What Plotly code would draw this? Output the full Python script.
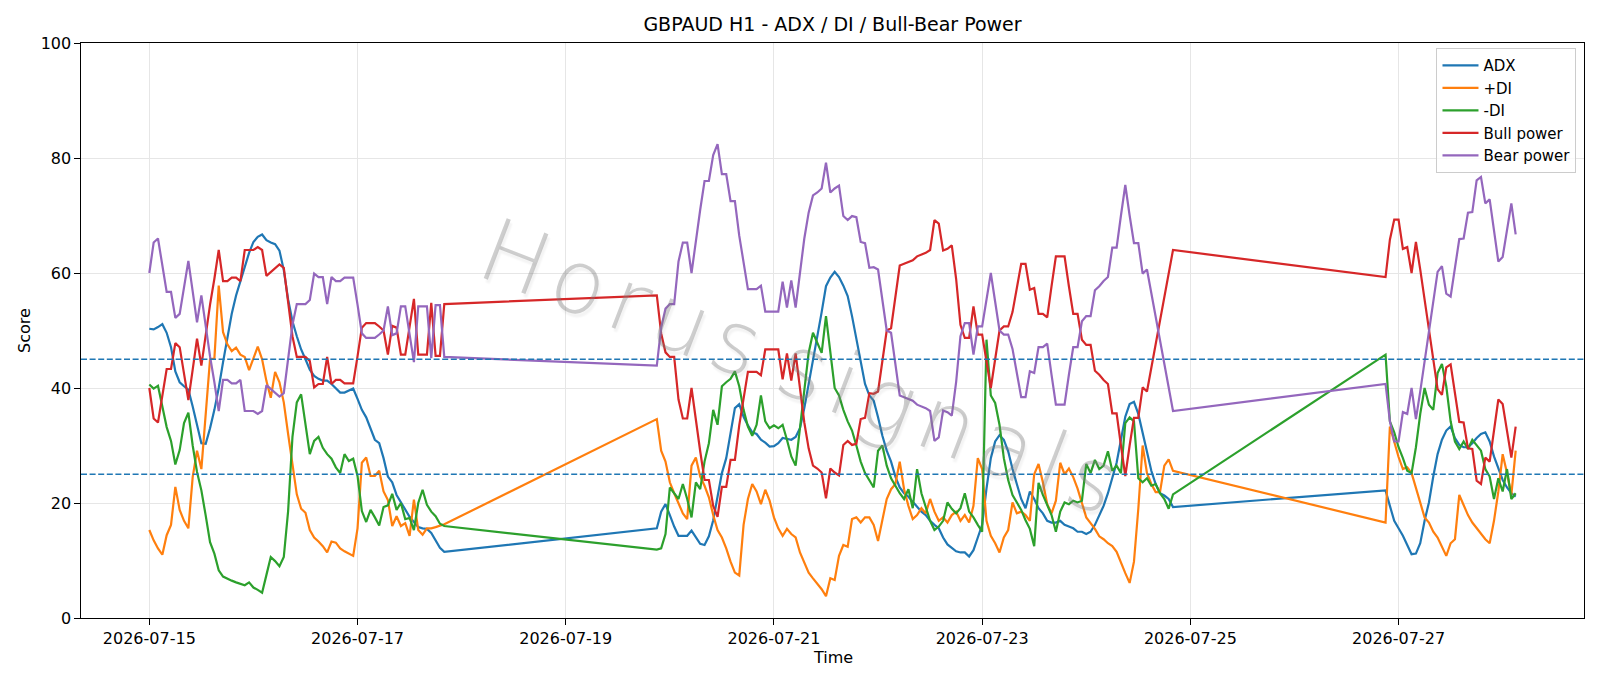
import pandas as pd
import plotly.graph_objects as go

# ---- time axis: three trading sessions of hourly bars ----
session_starts = ["2026-07-15 00:00", "2026-07-19 21:00", "2026-07-26 21:00"]
session_hours = [69, 120, 31]

# ---- series values ----
adx = [
    50.3, 50.2, 50.6, 51.1, 49.6, 47.1, 42.9, 41.0, 40.3, 39.7,
    36.8, 33.6, 30.4, 30.3, 33.0, 36.2, 40.0, 44.5, 49.0, 52.9,
    56.1, 58.7, 61.2, 63.5, 65.4, 66.3, 66.7, 65.7, 65.3, 65.0,
    63.9, 60.5, 55.4, 51.6, 49.0, 46.7, 45.0, 43.2, 42.1, 41.6,
    41.3, 41.3, 40.7, 40.0, 39.2, 39.2, 39.5, 39.9, 38.1, 36.2,
    34.9, 33.0, 31.0, 30.4, 27.8, 24.6, 23.6, 21.4, 20.1, 18.8,
    17.6, 16.7, 15.8, 15.6, 15.5, 14.8, 13.6, 12.2, 11.5,
    15.6, 18.5, 19.8, 17.9, 15.9, 14.3, 14.3, 14.3, 15.2, 14.0,
    12.9, 12.7, 14.2, 17.0, 21.4, 25.2, 27.8, 32.0, 36.5, 37.2,
    35.0, 33.5, 32.3, 32.0, 31.0, 30.5, 29.8, 29.9, 30.4, 31.3,
    31.1, 31.0, 31.5, 33.0, 36.5, 40.5, 44.5, 49.0, 53.2, 57.7,
    59.2, 60.2, 59.3, 57.8, 56.0, 52.5, 48.4, 44.5, 40.7, 38.7,
    37.8, 34.9, 31.7, 29.1, 27.2, 24.6, 22.7, 21.7, 21.1, 20.2,
    19.3, 18.5, 17.9, 16.9, 16.2, 15.6, 14.0, 12.8, 12.2, 11.6,
    11.4, 11.4, 10.7, 11.8, 14.0, 16.2, 22.5, 27.8, 30.7, 31.8,
    31.0, 29.0, 25.9, 23.3, 20.7, 19.1, 22.0, 20.7, 19.1, 18.2,
    16.9, 16.6, 16.6, 16.9, 16.2, 15.9, 15.6, 15.0, 15.0, 14.6,
    15.0, 16.2, 17.9, 19.5, 21.7, 24.3, 27.0, 31.0, 35.0, 37.2,
    37.6, 35.5, 32.3, 29.1, 25.6, 23.3, 21.7, 21.3, 20.7, 19.3,
    22.2, 19.5, 16.9, 15.6, 14.3, 12.7, 11.1, 11.2, 13.0, 16.9,
    20.1, 24.6, 28.5, 31.0, 32.6, 33.3, 31.3, 30.1, 29.7, 29.7,
    30.4, 31.3, 32.0, 32.3, 30.7, 28.1, 26.2, 24.0, 22.7, 21.7,
    21.1,
]

plus_di = [
    15.3, 13.5, 12.1, 11.0, 14.4, 16.2, 22.8, 18.8, 16.9, 15.6,
    24.5, 29.1, 25.9, 35.0, 45.0, 45.1, 57.8, 49.7, 47.6, 46.4,
    47.0, 45.8, 45.4, 43.1, 45.1, 47.2, 45.0, 41.2, 38.3, 42.8,
    41.0, 37.5, 32.0, 26.5, 21.5, 19.0, 18.3, 15.3, 14.0, 13.3,
    12.5, 11.4, 13.3, 13.1, 12.1, 11.6, 11.2, 10.8, 15.6, 27.0,
    27.9, 24.7, 24.7, 25.6, 22.0, 20.5, 16.0, 17.7, 16.0, 16.5,
    14.3, 20.6, 15.3, 14.5, 15.6, 15.6, 15.8, 16.0, 16.3,
    34.6, 29.1, 27.2, 23.6, 21.7, 19.8, 18.2, 17.2, 26.5, 27.9,
    24.6, 23.0, 21.0, 17.9, 15.3, 14.0, 12.1, 9.8, 7.9, 7.4,
    16.2, 20.7, 23.3, 22.0, 19.8, 22.3, 20.4, 17.5, 15.6, 14.3,
    15.5, 14.6, 14.0, 11.4, 9.8, 7.9, 6.9, 6.0, 5.0, 3.8,
    6.9, 6.6, 10.8, 12.7, 12.4, 17.2, 17.5, 16.6, 17.5, 17.5,
    16.2, 13.4, 16.9, 20.7, 22.4, 23.3, 27.2, 22.4, 19.5, 17.2,
    17.9, 19.1, 18.2, 20.7, 18.5, 16.9, 17.5, 16.6, 17.9, 18.5,
    16.9, 17.9, 16.6, 19.5, 27.8, 25.9, 16.9, 14.3, 13.0, 11.4,
    14.0, 15.3, 20.1, 18.2, 18.5, 17.9, 16.9, 25.0, 26.8, 23.6,
    19.8, 18.2, 20.4, 27.0, 25.0, 26.0, 24.5, 22.5, 20.0, 17.5,
    16.5, 15.5, 14.2, 13.7, 13.0, 12.5, 11.5, 9.5, 7.8, 6.1,
    9.8, 19.0, 30.0, 25.2, 23.3, 21.9, 21.9, 26.5, 27.6, 25.6,
    16.6, 33.3, 30.4, 28.0, 25.9, 26.2, 25.2, 22.7, 20.1, 17.5,
    16.6, 15.0, 14.0, 12.4, 10.8, 13.0, 13.7, 21.4, 19.5, 17.9,
    16.6, 15.6, 14.6, 13.7, 13.0, 16.9, 22.0, 28.5, 25.2, 21.4,
    29.1,
]

minus_di = [
    40.6, 39.9, 40.4, 36.8, 33.2, 30.8, 26.7, 29.2, 33.9, 35.7,
    30.0, 25.4, 22.2, 17.8, 13.2, 11.2, 8.3, 7.2, 6.8, 6.5,
    6.2, 5.9, 5.7, 6.2, 5.3, 4.9, 4.4, 7.5, 10.6, 9.9,
    9.0, 10.6, 18.6, 31.5, 37.5, 38.9, 33.5, 28.5, 30.8, 31.5,
    29.6, 28.5, 27.7, 26.2, 25.2, 28.5, 27.3, 27.7, 24.7, 18.6,
    16.7, 18.8, 17.5, 16.1, 19.3, 19.6, 21.6, 18.8, 20.0, 17.2,
    17.4, 15.3, 20.0, 22.3, 19.7, 18.5, 17.7, 16.4, 16.0,
    11.9, 12.1, 14.6, 22.7, 21.7, 20.7, 23.3, 20.7, 17.5, 23.6,
    22.4, 27.2, 30.4, 36.2, 33.6, 40.3, 41.0, 41.6, 42.9, 40.3,
    36.2, 33.3, 31.7, 33.6, 38.7, 34.2, 33.0, 33.5, 33.0, 33.6,
    31.0, 28.1, 26.5, 33.0, 40.0, 46.1, 49.6, 47.7, 46.1, 52.5,
    46.4, 40.0, 38.7, 36.2, 34.2, 32.6, 30.0, 27.2, 25.2, 24.0,
    22.7, 29.1, 30.0, 26.5, 24.3, 23.0, 21.7, 20.7, 22.4, 19.1,
    25.9, 21.7, 19.5, 16.9, 15.3, 15.9, 16.9, 20.1, 19.0, 18.2,
    19.1, 21.7, 18.5, 17.5, 16.2, 15.0, 48.4, 38.7, 37.4, 33.6,
    27.8, 24.0, 21.4, 20.1, 18.8, 17.0, 15.5, 12.5, 23.5, 21.4,
    19.5, 17.9, 15.0, 18.5, 20.1, 19.8, 20.4, 20.1, 20.4, 26.8,
    25.2, 27.5, 25.9, 26.5, 29.0, 25.6, 26.5, 25.2, 33.9, 34.9,
    34.2, 24.3, 23.6, 24.3, 23.0, 23.3, 21.7, 20.7, 19.0, 21.5,
    45.8, 34.2, 32.3, 29.7, 27.8, 25.6, 25.2, 29.7, 35.5, 40.0,
    37.1, 36.2, 42.6, 44.2, 40.3, 34.2, 30.7, 29.4, 30.7, 29.4,
    31.0, 30.0, 29.1, 25.9, 24.6, 20.7, 24.3, 22.0, 25.9, 20.7,
    21.7,
]

bull_power = [
    40.0, 34.7, 34.0, 38.7, 43.3, 43.3, 47.8, 47.1, 42.5, 37.9,
    43.2, 48.6, 43.9, 49.7, 54.5, 59.0, 64.0, 58.6, 58.6, 59.2,
    59.2, 58.6, 64.0, 64.0, 64.0, 64.5, 64.0, 59.5, 60.2, 60.9,
    61.5, 60.9, 54.8, 49.0, 45.4, 45.4, 45.4, 44.7, 40.1, 40.7,
    40.7, 45.4, 40.7, 41.4, 41.4, 40.8, 40.8, 40.8, 45.5, 50.5,
    51.3, 51.3, 51.3, 50.7, 50.0, 45.8, 50.8, 50.5, 45.8, 45.8,
    50.8, 55.5, 45.8, 45.8, 45.8, 54.8, 45.6, 45.6, 54.6,
    56.1, 49.5, 46.2, 45.4, 45.4, 38.0, 34.7, 34.7, 40.0, 34.2,
    29.0, 24.0, 24.0, 19.5, 17.6, 22.8, 22.8, 27.5, 27.5, 33.5,
    38.2, 42.8, 42.8, 42.8, 42.2, 46.7, 46.7, 46.7, 46.7, 41.5,
    46.0, 41.3, 46.0, 40.0, 34.0, 29.5, 26.5, 26.0, 25.3, 20.8,
    26.0, 25.3, 24.8, 30.1, 30.8, 30.1, 30.3, 34.6, 34.8, 39.1,
    39.0, 39.4, 44.5, 50.0, 50.4, 56.1, 61.3, 61.6, 61.9, 62.2,
    62.9, 63.2, 63.5, 64.0, 69.2, 68.6, 63.9, 64.2, 64.8, 59.0,
    51.0, 48.7, 48.7, 54.2, 49.3, 49.3, 44.6, 40.0, 45.0, 50.0,
    50.7, 50.7, 53.2, 57.1, 61.6, 61.6, 57.1, 57.4, 52.9, 52.9,
    52.3, 57.7, 62.9, 62.9, 62.9, 57.7, 52.9, 52.9, 48.4, 47.5,
    47.5, 43.0, 42.3, 41.4, 40.7, 35.6, 35.6, 30.0, 24.7, 30.0,
    34.8, 34.8, 40.1, 39.4, 43.5, 47.6, 51.7, 55.8, 59.9, 64.0,
    59.3, 65.8, 69.3, 69.3, 64.2, 64.5, 60.0, 65.4, 60.6, 55.5,
    50.4, 45.5, 39.8, 38.8, 43.6, 44.1, 38.8, 34.1, 34.0, 29.5,
    29.4, 23.9, 23.3, 27.9, 27.2, 33.0, 38.0, 37.2, 32.7, 27.9,
    33.3,
]

bear_power = [
    60.0, 65.3, 66.0, 61.3, 56.7, 56.7, 52.2, 52.9, 57.5, 62.1,
    56.8, 51.4, 56.1, 50.3, 45.5, 41.0, 36.0, 41.4, 41.4, 40.8,
    40.8, 41.4, 36.0, 36.0, 36.0, 35.5, 36.0, 40.5, 39.8, 39.1,
    38.5, 39.1, 45.2, 51.0, 54.6, 54.6, 54.6, 55.3, 59.9, 59.3,
    59.3, 54.6, 59.3, 58.6, 58.6, 59.2, 59.2, 59.2, 54.5, 49.5,
    48.7, 48.7, 48.7, 49.3, 50.0, 54.2, 49.2, 49.5, 54.2, 54.2,
    49.2, 44.5, 54.2, 54.2, 54.2, 45.2, 54.4, 54.4, 45.4,
    43.9, 50.5, 53.8, 54.6, 54.6, 62.0, 65.3, 65.3, 60.0, 65.8,
    71.0, 76.0, 76.0, 80.5, 82.4, 77.2, 77.2, 72.5, 72.5, 66.5,
    61.8, 57.2, 57.2, 57.2, 57.8, 53.3, 53.3, 53.3, 53.3, 58.5,
    54.0, 58.7, 54.0, 60.0, 66.0, 70.5, 73.5, 74.0, 74.7, 79.2,
    74.0, 74.7, 75.2, 69.9, 69.2, 69.9, 69.7, 65.4, 65.2, 60.9,
    61.0, 60.6, 55.5, 50.0, 49.6, 43.9, 38.7, 38.4, 38.1, 37.8,
    37.1, 36.8, 36.5, 36.0, 30.8, 31.4, 36.1, 35.8, 35.2, 41.0,
    49.0, 51.3, 51.3, 45.8, 50.7, 50.7, 55.4, 60.0, 55.0, 50.0,
    49.3, 49.3, 46.8, 42.9, 38.4, 38.4, 42.9, 42.6, 47.1, 47.1,
    47.7, 42.3, 37.1, 37.1, 37.1, 42.3, 47.1, 47.1, 51.6, 52.5,
    52.5, 57.0, 57.7, 58.6, 59.3, 64.4, 64.4, 70.0, 75.3, 70.0,
    65.2, 65.2, 59.9, 60.6, 56.5, 52.4, 48.3, 44.2, 40.1, 36.0,
    40.7, 34.2, 30.7, 30.7, 35.8, 35.5, 40.0, 34.6, 39.4, 44.5,
    49.6, 54.5, 60.2, 61.2, 56.4, 55.9, 61.2, 65.9, 66.0, 70.5,
    70.6, 76.1, 76.7, 72.1, 72.8, 67.0, 62.0, 62.8, 67.3, 72.1,
    66.7,
]

series_names = ["ADX", "+DI", "-DI", "Bull power", "Bear power"]
series_colors = ["#1f77b4", "#ff7f0e", "#2ca02c", "#d62728", "#9467bd"]
thresholds = [25, 45]
x_tick_labels = ["2026-07-15", "2026-07-17", "2026-07-19", "2026-07-21",
                 "2026-07-23", "2026-07-25", "2026-07-27"]
y_tick_values = [0, 20, 40, 60, 80, 100]
watermark_text = "\u200aH\u200ao\u200ar\u200au\u200as\u2009\u200as\u200ai\u200ag\u200an\u200aa\u200al\u200as"

times = []
for start, n in zip(session_starts, session_hours):
    times.extend(pd.date_range(start, periods=n, freq="h"))

t0, t1 = times[0], times[-1]
pad = (t1 - t0) * 0.05
x_range = [t0 - pad, t1 + pad]

fig = go.Figure()
for name, color, vals in zip(series_names, series_colors,
                             [adx, plus_di, minus_di, bull_power, bear_power]):
    fig.add_trace(go.Scatter(x=times, y=vals, mode="lines", name=name,
                             line=dict(color=color, width=2.2)))

for thr in thresholds:
    fig.add_shape(type="line", xref="paper", x0=0, x1=1, yref="y", y0=thr, y1=thr,
                  line=dict(color="#1f77b4", width=1.6, dash="6px,2.6px"), layer="above")

axis_common = dict(showgrid=True, gridcolor="#e6e6e6", gridwidth=1.2,
                   showline=True, linecolor="black", linewidth=1.2, mirror=True,
                   ticks="outside", ticklen=5.5, tickwidth=1.2, tickcolor="black",
                   tickfont=dict(size=16, color="black"), zeroline=False)

fig.update_layout(
    width=1600, height=686,
    margin=dict(l=81, r=16, t=43, b=68),
    paper_bgcolor="white", plot_bgcolor="white",
    font=dict(family="DejaVu Sans", color="black"),
    title=dict(text="GBPAUD H1 - ADX / DI / Bull-Bear Power", x=0.5, xref="paper",
               xanchor="center", y=1 - 24.5 / 686, yanchor="middle",
               font=dict(size=19, color="black")),
    xaxis=dict(type="date", range=x_range, tickvals=x_tick_labels,
               ticktext=x_tick_labels, **axis_common),
    yaxis=dict(range=[0, 100], tickvals=y_tick_values, **axis_common),
    legend=dict(x=0.995, y=0.991, xanchor="right", yanchor="top",
                bgcolor="rgba(255,255,255,0.8)", bordercolor="#cccccc", borderwidth=1,
                font=dict(size=15, color="black"), tracegroupgap=0,
                itemwidth=36),
    showlegend=True,
)

fig.add_annotation(text="Time", xref="paper", yref="paper", x=0.5, y=-0.0688,
                   xanchor="center", yanchor="middle", showarrow=False,
                   font=dict(size=16, color="black"))
fig.add_annotation(text="Score", xref="paper", yref="paper", x=-0.0376, y=0.5,
                   xanchor="center", yanchor="middle", textangle=-90, showarrow=False,
                   font=dict(size=16, color="black"))
fig.add_annotation(text=watermark_text, xref="paper", yref="paper", x=0.476, y=0.44,
                   xanchor="center", yanchor="middle", textangle=21, showarrow=False,
                   font=dict(size=88, color="rgba(125,125,125,0.38)", family="DejaVu Sans",
                             weight=200, shadow="3px 3px 2px rgba(0,0,0,0.12)"))

fig.write_html("out.html")
